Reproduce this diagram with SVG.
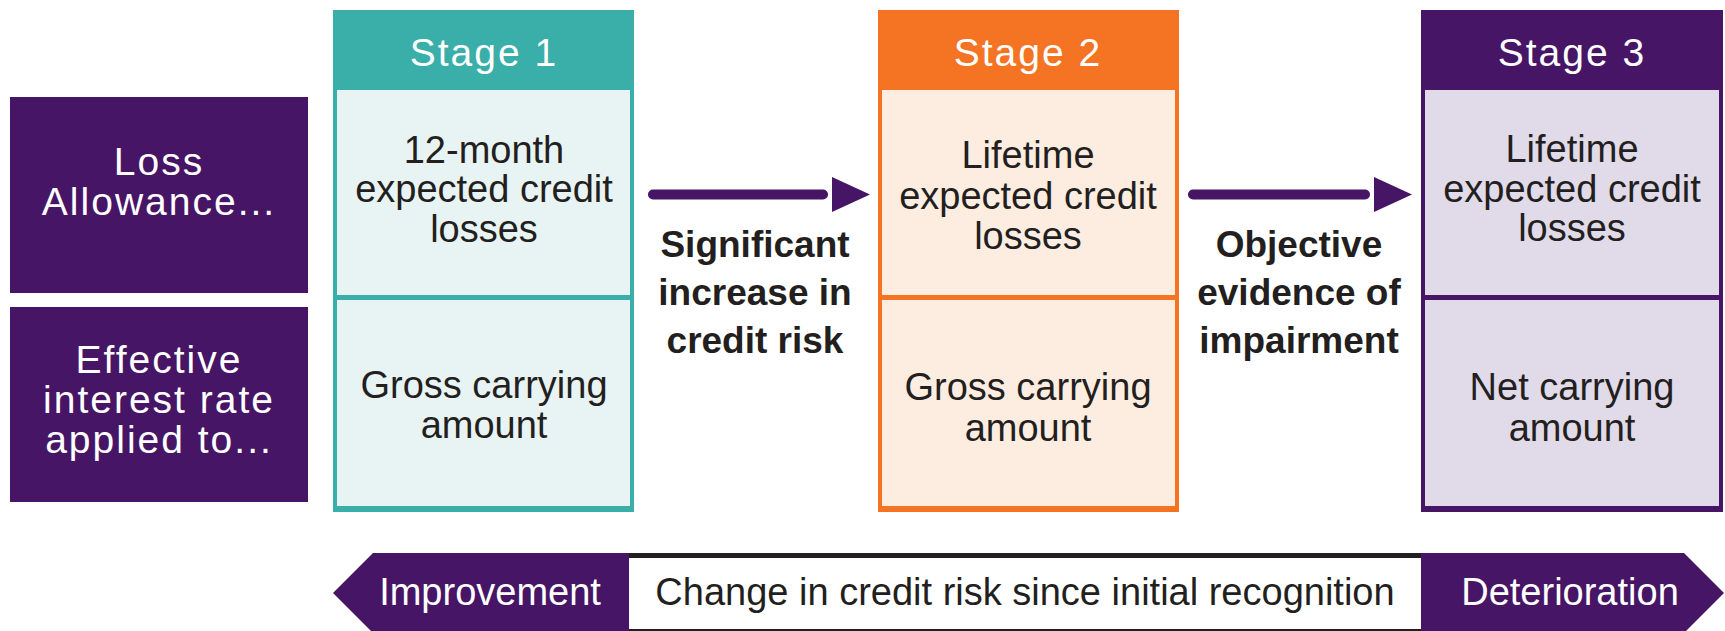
<svg xmlns="http://www.w3.org/2000/svg" width="1725" height="631" viewBox="0 0 1725 631">
<defs>
<style>
.hdr{font-family:"Liberation Sans",Arial,sans-serif;font-size:39px;letter-spacing:2px;fill:#ffffff;text-anchor:middle}
.body{font-family:"Liberation Sans",Arial,sans-serif;font-size:38px;fill:#231f20;text-anchor:middle}
.lbl{font-family:"Liberation Sans",Arial,sans-serif;font-size:37px;font-weight:bold;fill:#231f20;text-anchor:middle}
.bar{font-family:"Liberation Sans",Arial,sans-serif;font-size:38px;text-anchor:middle}
.purple{fill:#461566}
.conn{stroke:#461566;stroke-width:10;stroke-linecap:round;fill:none}
</style>
<marker id="ah" markerUnits="userSpaceOnUse" markerWidth="50" markerHeight="36" refX="0" refY="17.5" orient="auto">
<path d="M9,0 L47,17.5 L9,35 Z" fill="#461566"/>
</marker>
</defs>
<rect width="1725" height="631" fill="#ffffff"/>

<g id="row-loss">
<rect class="purple" x="10" y="97" width="298" height="196"/>
<text class="hdr" x="159" y="175">Loss</text>
<text class="hdr" x="159" y="215">Allowance...</text>
</g>
<g id="row-eir">
<rect class="purple" x="10" y="307" width="298" height="195"/>
<text class="hdr" x="159" y="373">Effective</text>
<text class="hdr" x="159" y="413">interest rate</text>
<text class="hdr" x="159" y="453">applied to...</text>
</g>

<g id="stage1">
<rect x="333" y="10" width="301" height="502" fill="#3aaea9"/>
<rect x="337" y="90" width="293" height="205" fill="#e8f3f3"/>
<rect x="337" y="300" width="293" height="206" fill="#e8f3f3"/>
<text class="hdr" x="484" y="66">Stage 1</text>
<text class="body" x="484" y="163">12-month</text>
<text class="body" x="484" y="202">expected credit</text>
<text class="body" x="484" y="242">losses</text>
<text class="body" x="484" y="398">Gross carrying</text>
<text class="body" x="484" y="438">amount</text>
</g>

<g id="stage2">
<rect x="878" y="10" width="301" height="502" fill="#f47424"/>
<rect x="882" y="90" width="293" height="205" fill="#fdede0"/>
<rect x="882" y="300" width="293" height="206" fill="#fdede0"/>
<text class="hdr" x="1028" y="66">Stage 2</text>
<text class="body" x="1028" y="168">Lifetime</text>
<text class="body" x="1028" y="209">expected credit</text>
<text class="body" x="1028" y="249">losses</text>
<text class="body" x="1028" y="400">Gross carrying</text>
<text class="body" x="1028" y="441">amount</text>
</g>

<g id="stage3">
<rect x="1421" y="10" width="302" height="502" fill="#461566"/>
<rect x="1425" y="90" width="294" height="205" fill="#e0dae9"/>
<rect x="1425" y="300" width="294" height="206" fill="#e0dae9"/>
<text class="hdr" x="1572" y="66">Stage 3</text>
<text class="body" x="1572" y="162">Lifetime</text>
<text class="body" x="1572" y="202">expected credit</text>
<text class="body" x="1572" y="241">losses</text>
<text class="body" x="1572" y="400">Net carrying</text>
<text class="body" x="1572" y="441">amount</text>
</g>

<g id="connectors">
<line class="conn" x1="653" y1="194.5" x2="823" y2="194.5" marker-end="url(#ah)"/>
<line class="conn" x1="1193" y1="194.5" x2="1365" y2="194.5" marker-end="url(#ah)"/>
</g>

<g id="label-sicr">
<text class="lbl" x="755" y="257">Significant</text>
<text class="lbl" x="755" y="305">increase in</text>
<text class="lbl" x="755" y="353">credit risk</text>
</g>
<g id="label-oei">
<text class="lbl" x="1299" y="257">Objective</text>
<text class="lbl" x="1299" y="305">evidence of</text>
<text class="lbl" x="1299" y="353">impairment</text>
</g>

<g id="bar-improvement">
<polygon class="purple" points="333,593 373,553 629,553 629,633 373,633"/>
<text class="bar" x="490" y="605" fill="#ffffff">Improvement</text>
</g>
<g id="bar-change">
<rect x="629" y="553" width="792" height="78" fill="#ffffff"/>
<line x1="629" y1="555.5" x2="1421" y2="555.5" stroke="#231f20" stroke-width="5"/>
<line x1="629" y1="630" x2="1421" y2="630" stroke="#231f20" stroke-width="2"/>
<text class="bar" x="1025" y="605" fill="#231f20">Change in credit risk since initial recognition</text>
</g>
<g id="bar-deterioration">
<polygon class="purple" points="1421,553 1684,553 1724,593 1684,633 1421,633"/>
<text class="bar" x="1570" y="605" fill="#ffffff">Deterioration</text>
</g>
</svg>
